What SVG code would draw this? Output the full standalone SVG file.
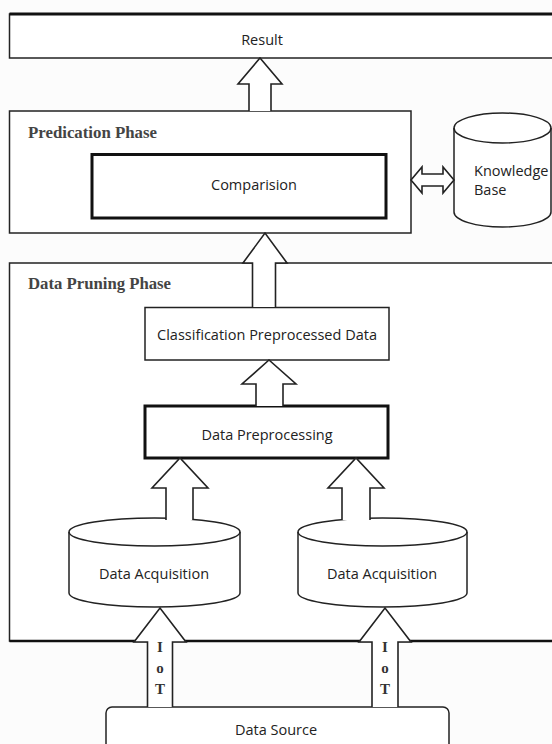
<svg xmlns="http://www.w3.org/2000/svg" width="552" height="744" viewBox="0 0 552 744">
<style>
.box{fill:#fff;stroke:#222;stroke-width:1.5}
.thick{fill:#fff;stroke:#111;stroke-width:3}
.arrow{fill:#fff;stroke:#222;stroke-width:1.6;stroke-linejoin:miter}
.lbl{font-family:"Open Sans","Liberation Sans",sans-serif;font-size:14.5px;fill:#222;text-anchor:middle;dominant-baseline:central}
.phase{font-family:"Liberation Serif","DejaVu Serif",serif;font-size:16px;font-weight:bold;fill:#444}
.iot{font-family:"Liberation Serif","DejaVu Serif",serif;font-size:15px;font-weight:bold;fill:#333;text-anchor:middle;dominant-baseline:central}
</style>
<rect width="552" height="744" fill="#fcfcfc"/>
<g id="result">
<rect class="box" x="9.5" y="14" width="545" height="44"/>
<line x1="9.5" y1="14" x2="552" y2="14" stroke="#111" stroke-width="3"/>
<text class="lbl" x="262" y="39">Result</text>
</g>
<g id="predication-phase">
<rect class="box" x="9.5" y="111" width="401.5" height="122" stroke="#555"/>
<text class="phase" x="28" y="138" textLength="129" lengthAdjust="spacingAndGlyphs">Predication Phase</text>
</g>
<g id="comparision">
<rect class="thick" x="92" y="154.5" width="294" height="63.5"/>
<text class="lbl" x="254" y="184">Comparision</text>
</g>
<g id="knowledge-base">
<path class="box" d="M454 128 A48.5 15 0 0 1 551 128 L551 212 A48.5 15 0 0 1 454 212 Z"/>
<path fill="none" stroke="#222" stroke-width="1.5" d="M454 128 A48.5 15 0 0 0 551 128"/>
<text class="lbl" x="474" y="170" style="text-anchor:start">Knowledge</text>
<text class="lbl" x="474" y="189" style="text-anchor:start">Base</text>
</g>
<g id="data-pruning-phase">
<rect class="box" x="9.5" y="263" width="545" height="378" stroke="#555"/>
<line x1="9.5" y1="641" x2="552" y2="641" stroke="#111" stroke-width="2.5"/>
<text class="phase" x="28" y="289" textLength="143" lengthAdjust="spacingAndGlyphs">Data Pruning Phase</text>
</g>
<g id="classification">
<rect class="box" x="145" y="307.5" width="244" height="52.5"/>
<text class="lbl" x="267" y="334">Classification Preprocessed Data</text>
</g>
<g id="data-preprocessing">
<rect class="thick" x="145" y="406" width="243" height="52"/>
<text class="lbl" x="267" y="434">Data Preprocessing</text>
</g>
<g id="data-acquisition-1">
<path class="box" d="M69 532 A85.5 14 0 0 1 240 532 L240 593 A85.5 14 0 0 1 69 593 Z"/>
<path fill="none" stroke="#222" stroke-width="1.5" d="M69 532 A85.5 14 0 0 0 240 532"/>
<text class="lbl" x="154" y="573">Data Acquisition</text>
</g>
<g id="data-acquisition-2">
<path class="box" d="M298 532 A84.5 14 0 0 1 467 532 L467 593 A84.5 14 0 0 1 298 593 Z"/>
<path fill="none" stroke="#222" stroke-width="1.5" d="M298 532 A84.5 14 0 0 0 467 532"/>
<text class="lbl" x="382" y="573">Data Acquisition</text>
</g>
<g id="data-source">
<rect class="box" x="106" y="707" width="343" height="60" rx="6"/>
<text class="lbl" x="276" y="729">Data Source</text>
</g>
<g id="connectors">
<path class="arrow" d="M249 111 L249 84 L238 84 L260 58 L282 84 L271 84 L271 111"/>
<path class="arrow" d="M252.5 307 L252.5 263 L243 263 L265 233 L287 263 L275.5 263 L275.5 307"/>
<path class="arrow" d="M256 406 L256 384 L242 384 L269 360 L296 384 L283 384 L283 406"/>
<path class="arrow" d="M166 520 L166 488 L152 488 L180 458 L208 488 L193 488 L193 520"/>
<path class="arrow" d="M342 520 L342 488 L328 488 L356 458 L384 488 L370 488 L370 520"/>
<path class="arrow" d="M147.5 707 L147.5 642 L134 642 L160 608 L186 642 L172.5 642 L172.5 707"/>
<path class="arrow" d="M372 707 L372 642 L359 642 L385 608 L411 642 L398 642 L398 707"/>
<path class="arrow" d="M411 180 L422 167 L422 174 L443 174 L443 167 L454 180 L443 193 L443 186 L422 186 L422 193 Z"/>
<text class="iot" x="160" y="647">I</text>
<text class="iot" x="160" y="668">o</text>
<text class="iot" x="160" y="689">T</text>
<text class="iot" x="385" y="647">I</text>
<text class="iot" x="385" y="668">o</text>
<text class="iot" x="385" y="689">T</text>
</g>
</svg>
